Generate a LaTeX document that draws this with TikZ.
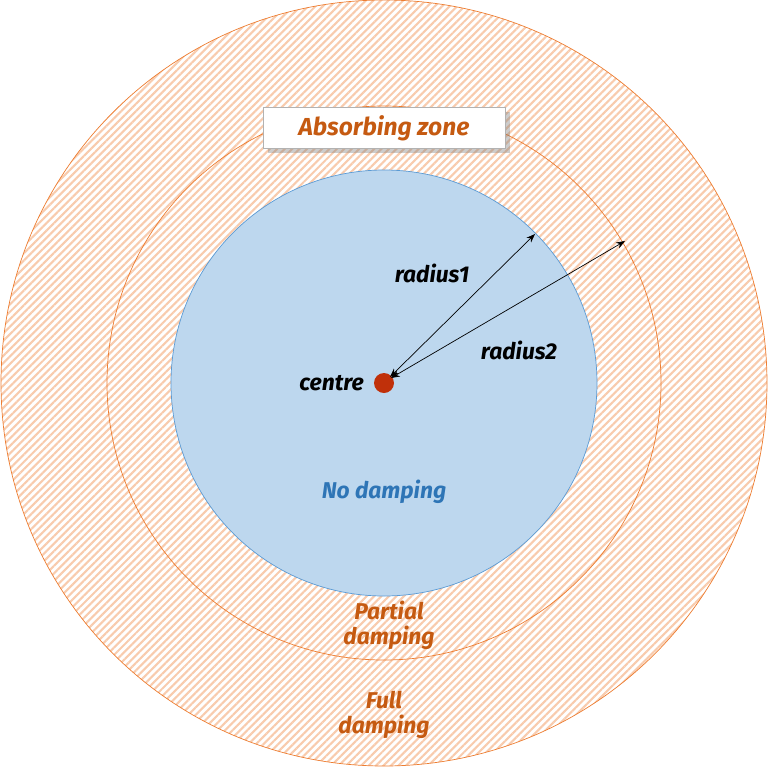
\documentclass[tikz,border=0pt]{standalone}
\usepackage{fontspec}
\setmainfont{Fira Sans}
\usetikzlibrary{patterns.meta,shadows,arrows.meta}
\definecolor{org}{HTML}{ED7D31}
\definecolor{dorg}{HTML}{C55A11}
\definecolor{hatch}{HTML}{F8CBAD}
\definecolor{bfill}{HTML}{BDD7EE}
\definecolor{bline}{HTML}{5B9BD5}
\definecolor{btxt}{HTML}{2E75B6}
\definecolor{dotc}{HTML}{C0300A}
\begin{document}
\begin{tikzpicture}[x=0.02cm,y=-0.02cm,
  lbl/.style={font=\fontsize{13}{15}\selectfont\bfseries\itshape},
  olbl/.style={lbl,text=dorg,align=center,font=\fontsize{13}{14}\selectfont\bfseries\itshape},
  arr/.style={{Stealth[length=5pt]}-{Stealth[length=5pt]},thin}]
\useasboundingbox (0,0) rectangle (768,769);
\fill[pattern={Lines[angle=45,distance=3pt,line width=1.2pt]},pattern color=hatch] (384,383) circle[radius=383];
\draw[org] (384,383) circle[radius=383];
\draw[org] (384,383) circle[radius=277];
\node[circle,minimum size=426*0.02cm,fill=bfill,draw=bline,inner sep=0] (inner) at (384,383) {};
\node[fill=white,draw=gray!60,drop shadow={opacity=0.4},minimum width=242*0.02cm,minimum height=41*0.02cm,
  font=\fontsize{14}{16}\selectfont\bfseries\itshape,text=dorg] (zone) at (384,128) {Absorbing zone};
\node[circle,fill=dotc,minimum size=20*0.02cm,inner sep=0] (c) at (384,383) {};
\coordinate (r1) at (535,234);
\coordinate (r2) at (625,241);
\draw[arr] (c.center) ++(6,-6) coordinate (c1) (c1) -- (r1);
\draw[arr] (c.center) ++(7,-5) coordinate (c2) (c2) -- (r2);
\node[lbl] (l1) at (432,273) {radius1};
\node[lbl] (l2) at (519,350) {radius2};
\node[lbl,anchor=east] (lc) at (370,383) {centre};
\node[lbl,text=btxt] (nd) at (384,492) {No damping};
\node[olbl] (pd) at (389,625) {Partial\\damping};
\node[olbl] (fd) at (384,715) {Full\\damping};
\end{tikzpicture}
\end{document}
